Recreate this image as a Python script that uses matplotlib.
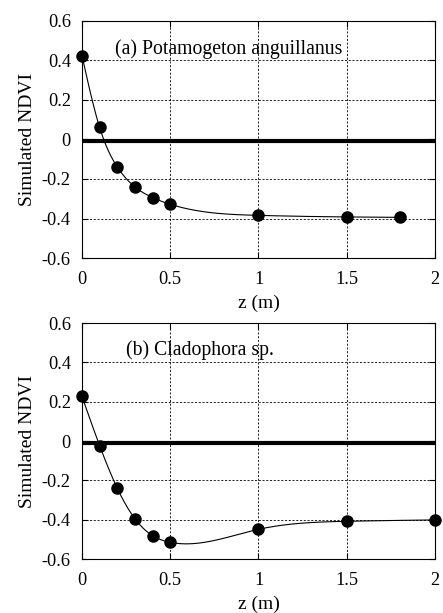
import numpy as np
import matplotlib
matplotlib.use("Agg")
import matplotlib.pyplot as plt

plt.rcParams['font.family'] = ['Liberation Serif', 'DejaVu Serif']

z_a = [0.0, 0.1, 0.2, 0.3, 0.4, 0.5, 1.0, 1.5, 1.8]
ndvi_a = [0.424, 0.061, -0.139, -0.240, -0.294, -0.328, -0.384, -0.392, -0.394]
z_b = [0.0, 0.1, 0.2, 0.3, 0.4, 0.5, 1.0, 1.5, 2.0]
ndvi_b = [0.227, -0.023, -0.240, -0.395, -0.481, -0.515, -0.449, -0.408, -0.401]
ref_level = -0.008
xticks = [0, 0.5, 1, 1.5, 2]
xtick_labels = ["0", "0.5", "1", "1.5", "2"]
yticks = [-0.6, -0.4, -0.2, 0, 0.2, 0.4, 0.6]
ytick_labels = ["-0.6", "-0.4", "-0.2", "0", "0.2", "0.4", "0.6"]
titles = ["(a) Potamogeton anguillanus", "(b) Cladophora sp."]


def natural_spline(x, y, n=400):
    x = np.asarray(x, float); y = np.asarray(y, float)
    m = len(x); h = np.diff(x)
    A = np.zeros((m, m)); r = np.zeros(m)
    A[0, 0] = A[-1, -1] = 1
    for i in range(1, m - 1):
        A[i, i - 1] = h[i - 1]; A[i, i] = 2 * (h[i - 1] + h[i]); A[i, i + 1] = h[i]
        r[i] = 3 * ((y[i + 1] - y[i]) / h[i] - (y[i] - y[i - 1]) / h[i - 1])
    c = np.linalg.solve(A, r)
    b = (y[1:] - y[:-1]) / h - h * (2 * c[:-1] + c[1:]) / 3
    d = (c[1:] - c[:-1]) / (3 * h)
    xs = np.linspace(x[0], x[-1], n)
    idx = np.clip(np.searchsorted(x, xs) - 1, 0, m - 2)
    dx = xs - x[idx]
    ys = y[idx] + b[idx] * dx + c[idx] * dx ** 2 + d[idx] * dx ** 3
    return xs, ys


fig = plt.figure(figsize=(4.43, 6.13), dpi=100)
positions = [[0.185, 0.579, 0.797, 0.387], [0.185, 0.088, 0.797, 0.385]]
data = [(z_a, ndvi_a, (0.187, 0.456)), (z_b, ndvi_b, (0.25, 0.464))]

for pos, (zz, vv, tpos), title in zip(positions, data, titles):
    ax = fig.add_axes(pos)
    xs, ys = natural_spline(zz, vv)
    ax.plot(xs, ys, color='black', lw=0.8, zorder=3)
    ax.plot(zz, vv, 'o', color='black', ms=8, zorder=4, clip_on=False)
    ax.axhline(ref_level, color='black', lw=3, zorder=2, xmin=0.01)
    ax.set_xlim(0, 2)
    ax.set_ylim(-0.6, 0.6)
    ax.set_xticks(xticks)
    ax.set_xticklabels(xtick_labels)
    ax.set_yticks(yticks)
    ax.set_yticklabels(ytick_labels)
    ax.grid(True, color='black', linestyle=(0, (2.5, 2.0)), lw=0.6)
    ax.tick_params(direction='in', labelsize=13.2, length=4, top=True, right=True)
    ax.tick_params(axis='x', pad=9)
    ax.tick_params(axis='y', pad=8)
    for s in ax.spines.values():
        s.set_linewidth(0.8)
    ax.set_xlabel("z (m)", fontsize=14, labelpad=5)
    ax.set_ylabel("Simulated NDVI", fontsize=14, labelpad=4)
    ax.text(tpos[0], tpos[1], title, fontsize=14.2, va='center', ha='left', zorder=1)

fig.savefig("out.png", dpi=100)
